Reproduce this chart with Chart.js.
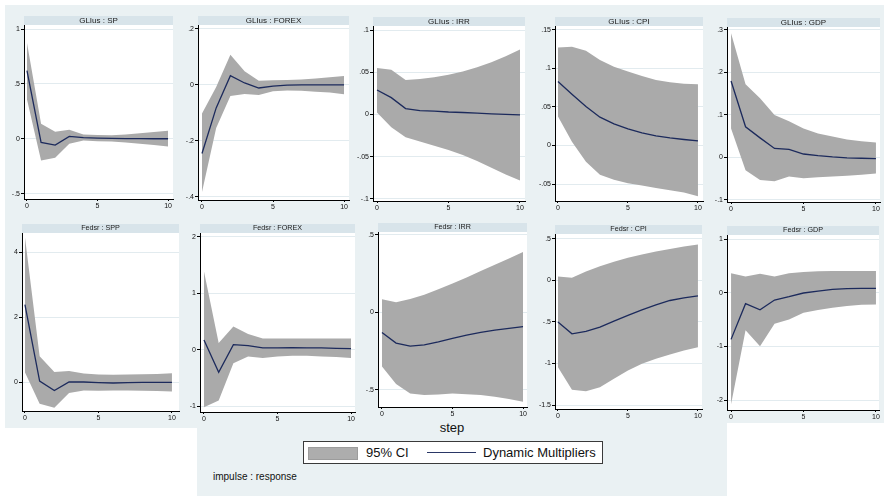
<!DOCTYPE html>
<html>
<head>
<meta charset="utf-8">
<title>Impulse responses</title>
<script src="https://cdn.jsdelivr.net/npm/chart.js@4.4.1/dist/chart.umd.min.js"></script>
<style>
  html, body { margin: 0; padding: 0; background: #ffffff; }
  #page { position: relative; width: 884px; height: 496px; overflow: hidden;
          font-family: "Liberation Sans", Arial, Helvetica, sans-serif; color: #111; }
  .bg { position: absolute; background: #eaf1f3; }
  canvas { position: absolute; }
  #step { position: absolute; left: 402px; width: 100px; top: 420px; text-align: center;
          font-size: 13px; line-height: 16px; }
  #legend { position: absolute; left: 303px; top: 441px; width: 298px; height: 21px;
            border: 1px solid #3a3a3a; background: #ffffff; }
  #legend .sw { position: absolute; left: 4px; top: 5px; width: 48px; height: 11px;
                background: #adadad; border: 1px solid #9c9c9c; }
  #legend .ln { position: absolute; left: 123px; top: 10px; width: 49px; height: 0;
                border-top: 1.5px solid #2a3766; }
  #legend .tx { position: absolute; top: 2px; font-size: 13px; line-height: 17px; white-space: nowrap; }
  #note { position: absolute; left: 213px; top: 471px; font-size: 10px; line-height: 12px; white-space: nowrap; }
</style>
</head>
<body>
<div id="page">
  <div class="bg" style="left:5px;top:5px;width:879px;height:418px"></div>
  <div class="bg" style="left:5px;top:423px;width:192px;height:5px"></div>
  <div class="bg" style="left:197px;top:415px;width:530px;height:81px"></div>
  <div id="step">step</div>
  <div id="legend">
    <div class="sw"></div><div class="tx" style="left:62px">95% CI</div>
    <div class="ln"></div><div class="tx" style="left:179px">Dynamic Multipliers</div>
  </div>
  <div id="note">impulse : response</div>
</div>
<script>
// Forecast horizon
const steps = [0, 1, 2, 3, 4, 5, 6, 7, 8, 9, 10];
const xTicks = [0, 5, 10];
const xTickLabels = ['0', '5', '10'];

// Impulse GLIus -> response SP
const glSpIrf = [0.62, -0.034, -0.057, 0.021, 0.010, 0.006, 0.004, 0.002, 0.001, 0.000, 0.000];
const glSpLo  = [0.36, -0.197, -0.173, -0.045, -0.015, -0.022, -0.026, -0.035, -0.045, -0.056, -0.070];
const glSpHi  = [0.875, 0.136, 0.064, 0.082, 0.040, 0.034, 0.032, 0.040, 0.050, 0.061, 0.073];
const glSpTicks = [-0.5, 0, 0.5, 1];
const glSpTickLabels = ['-.5', '0', '.5', '1'];

// Impulse GLIus -> response FOREX
const glFxIrf = [-0.245, -0.082, 0.033, 0.007, -0.011, -0.004, -0.001, 0.000, 0.000, 0.000, 0.000];
const glFxLo  = [-0.383, -0.154, -0.040, -0.032, -0.036, -0.023, -0.020, -0.021, -0.024, -0.027, -0.033];
const glFxHi  = [-0.102, -0.007, 0.108, 0.049, 0.015, 0.017, 0.018, 0.019, 0.023, 0.027, 0.032];
const glFxTicks = [-0.4, -0.2, 0, 0.2];
const glFxTickLabels = ['-.4', '-.2', '0', '.2'];

// Impulse GLIus -> response IRR
const glIrIrf = [0.029, 0.020, 0.007, 0.0047, 0.004, 0.003, 0.0024, 0.0016, 0.0008, 0.0002, -0.0005];
const glIrLo  = [0.0024, -0.015, -0.027, -0.032, -0.037, -0.042, -0.048, -0.055, -0.063, -0.071, -0.078];
const glIrHi  = [0.055, 0.053, 0.041, 0.042, 0.044, 0.047, 0.051, 0.056, 0.062, 0.069, 0.077];
const glIrTicks = [-0.1, -0.05, 0, 0.05, 0.1];
const glIrTickLabels = ['-.1', '-.05', '0', '.05', '.1'];

// Impulse GLIus -> response CPI
const glCpIrf = [0.083, 0.0665, 0.0505, 0.0367, 0.028, 0.0216, 0.0164, 0.0125, 0.0099, 0.0078, 0.006];
const glCpLo  = [0.0376, 0.005, -0.021, -0.038, -0.0445, -0.049, -0.052, -0.055, -0.058, -0.061, -0.066];
const glCpHi  = [0.127, 0.128, 0.123, 0.111, 0.102, 0.096, 0.090, 0.085, 0.082, 0.080, 0.0795];
const glCpTicks = [-0.05, 0, 0.05, 0.1, 0.15];
const glCpTickLabels = ['-.05', '0', '.05', '.1', '.15'];

// Impulse GLIus -> response GDP
const glGdIrf = [0.18, 0.072, 0.046, 0.021, 0.019, 0.008, 0.004, 0.001, -0.001, -0.002, -0.003];
const glGdLo  = [0.068, -0.030, -0.053, -0.056, -0.045, -0.049, -0.047, -0.045, -0.043, -0.041, -0.038];
const glGdHi  = [0.292, 0.172, 0.139, 0.100, 0.085, 0.068, 0.056, 0.049, 0.042, 0.038, 0.035];
const glGdTicks = [-0.1, 0, 0.1, 0.2, 0.3];
const glGdTickLabels = ['-.1', '0', '.1', '.2', '.3'];

// Impulse Fedsr -> response SPP
const fdSpIrf = [2.38, 0.03, -0.26, 0.0, 0.0, -0.02, -0.03, -0.02, -0.01, -0.01, -0.01];
const fdSpLo  = [0.30, -0.67, -0.79, -0.34, -0.26, -0.27, -0.26, -0.26, -0.27, -0.28, -0.29];
const fdSpHi  = [4.46, 0.79, 0.31, 0.34, 0.26, 0.23, 0.22, 0.23, 0.24, 0.25, 0.27];
const fdSpTicks = [0, 2, 4];
const fdSpTickLabels = ['0', '2', '4'];

// Impulse Fedsr -> response FOREX
const fdFxIrf = [0.17, -0.40, 0.09, 0.07, 0.03, 0.03, 0.035, 0.03, 0.03, 0.024, 0.02];
const fdFxLo  = [-1.02, -0.90, -0.24, -0.12, -0.15, -0.12, -0.11, -0.11, -0.12, -0.13, -0.15];
const fdFxHi  = [1.39, 0.12, 0.41, 0.28, 0.20, 0.20, 0.20, 0.20, 0.20, 0.20, 0.20];
const fdFxTicks = [-1, 0, 1, 2];
const fdFxTickLabels = ['-1', '0', '1', '2'];

// Impulse Fedsr -> response IRR
const fdIrIrf = [-0.13, -0.198, -0.217, -0.209, -0.19, -0.168, -0.146, -0.129, -0.114, -0.103, -0.092];
const fdIrLo  = [-0.348, -0.462, -0.523, -0.533, -0.529, -0.523, -0.527, -0.533, -0.544, -0.559, -0.576];
const fdIrHi  = [0.086, 0.065, 0.086, 0.114, 0.15, 0.187, 0.226, 0.267, 0.308, 0.348, 0.39];
const fdIrTicks = [-0.5, 0, 0.5];
const fdIrTickLabels = ['-.5', '0', '.5'];

// Impulse Fedsr -> response CPI
const fdCpIrf = [-0.50, -0.643, -0.614, -0.562, -0.49, -0.42, -0.353, -0.293, -0.241, -0.209, -0.185];
const fdCpLo  = [-1.044, -1.317, -1.333, -1.285, -1.185, -1.084, -1.004, -0.944, -0.892, -0.843, -0.803];
const fdCpHi  = [0.048, 0.032, 0.108, 0.173, 0.225, 0.273, 0.313, 0.349, 0.38, 0.41, 0.434];
const fdCpTicks = [-1.5, -1, -0.5, 0, 0.5];
const fdCpTickLabels = ['-1.5', '-1', '-.5', '0', '.5'];

// Impulse Fedsr -> response GDP
const fdGdIrf = [-0.87, -0.205, -0.32, -0.137, -0.075, -0.006, 0.03, 0.062, 0.075, 0.08, 0.08];
const fdGdLo  = [-2.08, -0.70, -1.0, -0.58, -0.5, -0.373, -0.324, -0.28, -0.249, -0.224, -0.218];
const fdGdHi  = [0.36, 0.30, 0.355, 0.30, 0.36, 0.385, 0.398, 0.405, 0.405, 0.405, 0.405];
const fdGdTicks = [-2, -1, 0, 1];
const fdGdTickLabels = ['-2', '-1', '0', '1'];

// Styling
const FONT = '"Liberation Sans", Arial, Helvetica, sans-serif';
const CI_COLOR = '#aaaaaa';
const LINE_COLOR = '#1c2a5c';
const GRID_COLOR = '#e2ebef';
const STRIP_COLOR = '#d8e4ea';

// Each panel: plot-region box on the page and axis ranges
const panels = [
  { title: 'GLIus : SP',    irf: glSpIrf, lo: glSpLo, hi: glSpHi, yt: glSpTicks, yl: glSpTickLabels,
    box: { l: 24,  t: 25, r: 173, b: 199 }, x: [-0.21, 10.35], y: [-0.549, 1.037], ts: 8 },
  { title: 'GLIus : FOREX', irf: glFxIrf, lo: glFxLo, hi: glFxHi, yt: glFxTicks, yl: glFxTickLabels,
    box: { l: 198, t: 25, r: 349, b: 200 }, x: [-0.28, 10.35], y: [-0.411, 0.214], ts: 8 },
  { title: 'GLIus : IRR',   irf: glIrIrf, lo: glIrLo, hi: glIrHi, yt: glIrTicks, yl: glIrTickLabels,
    box: { l: 373, t: 26, r: 525, b: 201 }, x: [-0.28, 10.35], y: [-0.1024, 0.1048], ts: 8 },
  { title: 'GLIus : CPI',   irf: glCpIrf, lo: glCpLo, hi: glCpHi, yt: glCpTicks, yl: glCpTickLabels,
    box: { l: 555, t: 26, r: 703, b: 201 }, x: [-0.21, 10.36], y: [-0.072, 0.155], ts: 8 },
  { title: 'GLIus : GDP',   irf: glGdIrf, lo: glGdLo, hi: glGdHi, yt: glGdTicks, yl: glGdTickLabels,
    box: { l: 727, t: 27, r: 880, b: 202 }, x: [-0.28, 10.28], y: [-0.105, 0.307], ts: 8 },
  { title: 'Fedsr : SPP',   irf: fdSpIrf, lo: fdSpLo, hi: fdSpHi, yt: fdSpTicks, yl: fdSpTickLabels,
    box: { l: 22,  t: 233, r: 179, b: 411 }, x: [-0.2, 10.48], y: [-0.892, 4.585], ts: 7.2 },
  { title: 'Fedsr : FOREX', irf: fdFxIrf, lo: fdFxLo, hi: fdFxHi, yt: fdFxTicks, yl: fdFxTickLabels,
    box: { l: 200, t: 233, r: 355, b: 412 }, x: [-0.27, 10.27], y: [-1.106, 2.07], ts: 7.2 },
  { title: 'Fedsr : IRR',   irf: fdIrIrf, lo: fdIrLo, hi: fdIrHi, yt: fdIrTicks, yl: fdIrTickLabels,
    box: { l: 378, t: 232, r: 527, b: 407 }, x: [-0.28, 10.28], y: [-0.61, 0.519], ts: 7.2 },
  { title: 'Fedsr : CPI',   irf: fdCpIrf, lo: fdCpLo, hi: fdCpHi, yt: fdCpTicks, yl: fdCpTickLabels,
    box: { l: 555, t: 234, r: 702, b: 409 }, x: [-0.21, 10.29], y: [-1.548, 0.56], ts: 7.2 },
  { title: 'Fedsr : GDP',   irf: fdGdIrf, lo: fdGdLo, hi: fdGdHi, yt: fdGdTicks, yl: fdGdTickLabels,
    box: { l: 727, t: 235, r: 879, b: 410 }, x: [-0.28, 10.21], y: [-2.186, 1.075], ts: 7.2 }
];

// Paints the subtitle strip behind the title and the white plot region
const panelFill = {
  id: 'panelFill',
  beforeDraw(chart) {
    const { ctx, chartArea: a } = chart;
    const tb = chart.titleBlock;
    ctx.save();
    if (tb) {
      ctx.fillStyle = STRIP_COLOR;
      ctx.fillRect(a.left, tb.top, a.right - a.left, a.top - tb.top);
    }
    ctx.fillStyle = '#ffffff';
    ctx.fillRect(a.left, a.top, a.right - a.left, a.bottom - a.top);
    ctx.restore();
  }
};

const page = document.getElementById('page');
const YW = 22, XH = 12, RP = 6, TH = 9;

function asPoints(arr) {
  return steps.map((s, i) => ({ x: s, y: arr[i] }));
}

function drawPanel(p) {
  const cv = document.createElement('canvas');
  const left = p.box.l - YW, top = p.box.t - TH;
  const w = p.box.r + RP - left, h = p.box.b + XH - top;
  cv.width = w; cv.height = h;
  cv.style.left = left + 'px'; cv.style.top = top + 'px';
  cv.style.width = w + 'px'; cv.style.height = h + 'px';
  page.appendChild(cv);

  new Chart(cv, {
    type: 'line',
    data: {
      datasets: [
        // response line, kept on top of the band
        { label: 'Dynamic Multipliers', data: asPoints(p.irf), borderColor: LINE_COLOR,
          borderWidth: 1.3, pointRadius: 0, fill: false, order: 0 },
        // lower and upper 95% bounds; the upper one fills down to the lower one
        { label: 'lower', data: asPoints(p.lo), borderWidth: 0, pointRadius: 0, fill: false, order: 2 },
        { label: '95% CI', data: asPoints(p.hi), borderWidth: 0, pointRadius: 0,
          fill: 1, backgroundColor: CI_COLOR, order: 1 }
      ]
    },
    options: {
      responsive: false,
      animation: false,
      devicePixelRatio: 1,
      layout: { padding: { left: 0, right: RP, top: 0, bottom: 0 } },
      plugins: {
        legend: { display: false },
        tooltip: { enabled: false },
        title: {
          display: true, text: p.title, fullSize: false, color: '#1a1a1a', padding: 0,
          font: { family: FONT, size: p.ts, weight: 'normal', lineHeight: TH / p.ts }
        }
      },
      scales: {
        x: {
          type: 'linear', min: p.x[0], max: p.x[1],
          afterBuildTicks: s => { s.ticks = xTicks.map(v => ({ value: v })); },
          afterFit: s => { s.height = XH; },
          grid: { drawOnChartArea: false, drawTicks: true, tickLength: 2, tickColor: '#000' },
          border: { color: '#000', width: 1 },
          ticks: { font: { family: FONT, size: 7 }, color: '#111', padding: 1,
                   maxRotation: 0, autoSkip: false, callback: (v, i) => xTickLabels[i] }
        },
        y: {
          type: 'linear', min: p.y[0], max: p.y[1],
          afterBuildTicks: s => { s.ticks = p.yt.map(v => ({ value: v })); },
          afterFit: s => { s.width = YW; },
          grid: { color: GRID_COLOR, lineWidth: 1, drawTicks: true, tickLength: 3, tickColor: '#000' },
          border: { color: '#000', width: 1 },
          ticks: { font: { family: FONT, size: 7 }, color: '#111', padding: 1,
                   autoSkip: false, callback: (v, i) => p.yl[i] }
        }
      }
    },
    plugins: [panelFill]
  });
}

panels.forEach(drawPanel);
</script>
</body>
</html>
